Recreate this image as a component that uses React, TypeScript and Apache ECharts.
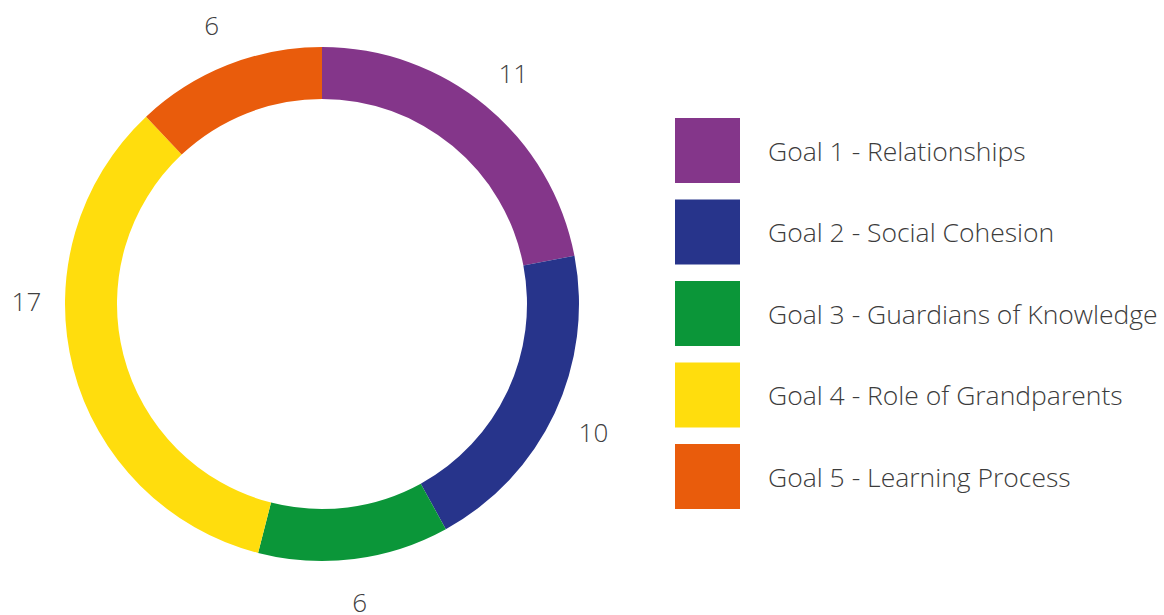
import React, { useEffect, useRef } from "react";
import * as echarts from "echarts";

const categories = [
  "Goal 1 - Relationships",
  "Goal 2 - Social Cohesion",
  "Goal 3 - Guardians of Knowledge",
  "Goal 4 - Role of Grandparents",
  "Goal 5 - Learning Process",
];
const values = [11, 10, 6, 17, 6];
const colors = ["#84368A", "#27348B", "#0B9639", "#FFDD0D", "#E95C0C"];

export default function App() {
  const ref = useRef<HTMLDivElement>(null);
  useEffect(() => {
    document.body.style.margin = "0";
    const chart = echarts.init(ref.current!, null, { renderer: "svg" });
    const data = categories.map((name, i) => ({
      name,
      value: values[i],
      itemStyle: { color: colors[i] },
    }));
    chart.setOption({
      animation: false,
      backgroundColor: "#ffffff",
      textStyle: { fontFamily: "Open Sans" },
      legend: {
        orient: "vertical",
        left: 670,
        top: 113,
        itemWidth: 65,
        itemHeight: 65,
        itemGap: 16.5,
        icon: "rect",
        selectedMode: false,
        data: categories,
        textStyle: {
          fontSize: 26.5,
          color: "#3c3c3c",
          fontFamily: "Open Sans",
          fontWeight: 300,
          padding: [0, 0, 0, 23],
        },
      },
      series: [
        {
          type: "pie",
          center: [322, 304],
          radius: [205, 257],
          startAngle: 90,
          clockwise: true,
          silent: true,
          label: { show: false },
          labelLine: { show: false },
          itemStyle: { borderWidth: 0 },
          data,
        },
        {
          type: "pie",
          center: [322, 304],
          radius: [278, 316],
          startAngle: 90,
          clockwise: true,
          silent: true,
          itemStyle: { color: "rgba(0,0,0,0)", borderWidth: 0 },
          label: {
            show: true,
            position: "inside",
            formatter: "{c}",
            fontSize: 26,
            color: "#404040",
            fontFamily: "Open Sans",
            fontWeight: 300,
          },
          labelLine: { show: false },
          data: categories.map((name, i) => ({
            name,
            value: values[i],
            label: i === 3 ? { offset: [-5, -78] } : undefined,
          })),
        },
      ],
    });
    return () => chart.dispose();
  }, []);
  return <div ref={ref} style={{ width: 1164, height: 615 }} />;
}
